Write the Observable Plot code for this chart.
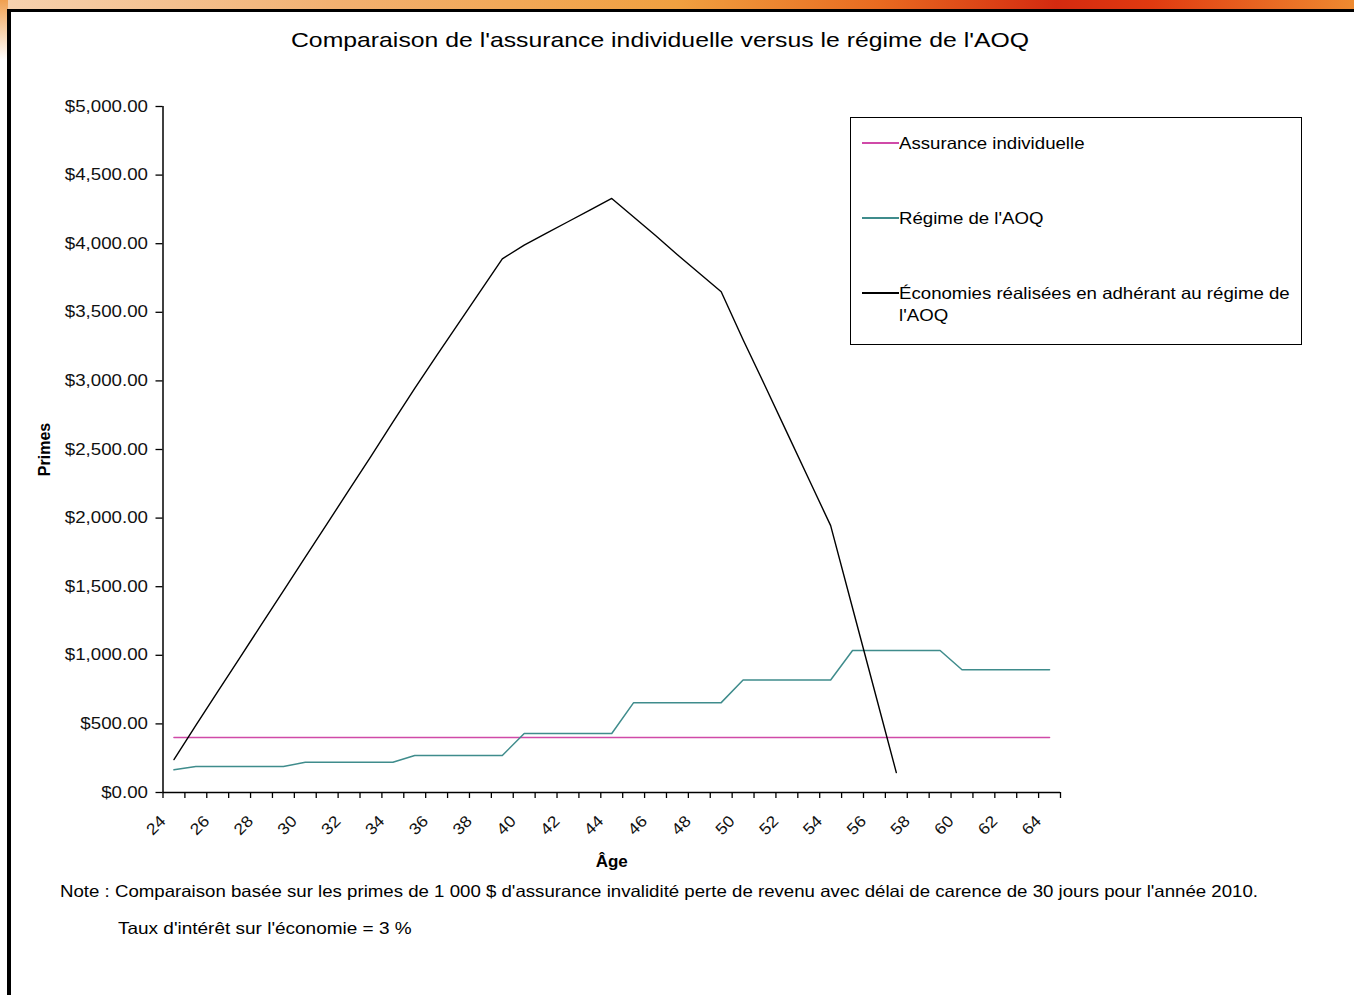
<!DOCTYPE html>
<html>
<head>
<meta charset="utf-8">
<script src="https://cdn.jsdelivr.net/npm/d3@7"></script>
<script src="https://cdn.jsdelivr.net/npm/@observablehq/plot@0.6"></script>
<style>
  html, body { margin: 0; padding: 0; background: #fff; }
  body { width: 1354px; height: 995px; position: relative; overflow: hidden; font-family: "Liberation Sans", Arial, sans-serif; color: #000; }
  .abs { position: absolute; }
  #banner { left: 0; top: 0; width: 1354px; height: 10px;
    background: linear-gradient(90deg, #f6d2b0 0%, #f2b070 25%, #f0a040 50%, #e86a20 65%, #d42a10 78%, #e03a10 85%, #ee8a30 100%); }
  #leftfade { left: 0; top: 0; width: 8px; height: 60px; background: linear-gradient(180deg, #f0a050 0%, #fff 100%); }
  #frameTop { left: 7px; top: 9px; width: 1347px; height: 3px; background: #000; }
  #frameLeft { left: 7px; top: 9px; width: 4px; height: 986px; background: #000; }
  #title { left: 0; top: 27px; width: 1320px; text-align: center; font-size: 21px; line-height: 26px; transform: scaleX(1.18); transform-origin: 660px 0; }
  #legend { left: 850px; top: 117px; width: 450px; height: 226px; border: 1.5px solid #000; background: #fff; }
  .item { position: absolute; left: 11px; font-size: 16.5px; line-height: 22px; display: flex; }
  .swatch { width: 37px; height: 22px; position: relative; flex: none; }
  .swatch span { position: absolute; left: 0; right: 0; top: 10px; height: 1.5px; }
  .ltext { transform: scaleX(1.13); transform-origin: 0 0; }
  #note1 { left: 60px; top: 880px; font-size: 16.5px; line-height: 22px; white-space: nowrap; transform: scaleX(1.13); transform-origin: 0 0; }
  #note2 { left: 118px; top: 917px; font-size: 16.5px; line-height: 22px; white-space: nowrap; transform: scaleX(1.15); transform-origin: 0 0; }
  #chart { left: 0; top: 0; }
</style>
</head>
<body>
<div id="banner" class="abs"></div>
<div id="leftfade" class="abs"></div>
<div id="frameTop" class="abs"></div>
<div id="frameLeft" class="abs"></div>
<div id="chart" class="abs"></div>
<div id="title" class="abs">Comparaison de l'assurance individuelle versus le régime de l'AOQ</div>
<div id="legend" class="abs"></div>
<div id="note1" class="abs">Note : Comparaison basée sur les primes de 1 000 $ d'assurance invalidité perte de revenu avec délai de carence de 30 jours pour l'année 2010.</div>
<div id="note2" class="abs">Taux d'intérêt sur l'économie = 3 %</div>
<script>
// ---- Data ----
const ages = [24,25,26,27,28,29,30,31,32,33,34,35,36,37,38,39,40,41,42,43,44,45,46,47,48,49,50,51,52,53,54,55,56,57,58,59,60,61,62,63,64];
const assuranceIndividuelle = [400,400,400,400,400,400,400,400,400,400,400,400,400,400,400,400,400,400,400,400,400,400,400,400,400,400,400,400,400,400,400,400,400,400,400,400,400,400,400,400,400];
const regimeAOQ = [165,190,190,190,190,190,220,220,220,220,220,270,270,270,270,270,430,430,430,430,430,655,655,655,655,655,820,820,820,820,820,1035,1035,1035,1035,1035,895,895,895,895,895];
// ages 24 .. 57
const economies = [240,490,735,980,1225,1470,1715,1960,2205,2450,2700,2945,3185,3420,3655,3890,3990,4075,4160,4245,4330,4195,4060,3920,3785,3650,3300,2965,2625,2285,1945,1345,745,145];
const xTickLabels = [24,26,28,30,32,34,36,38,40,42,44,46,48,50,52,54,56,58,60,62,64];
const yTicks = [0,500,1000,1500,2000,2500,3000,3500,4000,4500,5000];
const seriesNames = ["Assurance individuelle", "Régime de l'AOQ", "Économies réalisées en adhérant au régime de l'AOQ"];
const seriesColors = ["#d04aa8", "#3f8c8c", "#000000"];

const rows = (arr) => arr.map((v, i) => ({age: ages[i], value: v}));
const dataInd = rows(assuranceIndividuelle);
const dataAOQ = rows(regimeAOQ);
const dataEco = rows(economies);
const boundaries = ages.map(a => a - 0.5).concat([ages[ages.length - 1] + 0.5]);

const chart = Plot.plot({
  width: 1354,
  height: 995,
  marginLeft: 162.5,
  marginRight: 294,
  marginTop: 106,
  marginBottom: 203,
  style: {background: "transparent", fontFamily: "'Liberation Sans', Arial, sans-serif", color: "#000", overflow: "visible"},
  x: {domain: [ages[0] - 0.5, ages[ages.length - 1] + 0.5], axis: null},
  y: {domain: [0, 5000], axis: null},
  marks: [
    Plot.axisY({ticks: yTicks, tickFormat: d3.format("$,.2f"), tickSize: 7, tickPadding: 8, fontSize: 16, label: null, stroke: "#000", strokeWidth: 1.3, fill: "#111"}),
    Plot.axisX({ticks: boundaries, tickFormat: () => "", tickSize: 6, label: null, stroke: "#000", strokeWidth: 1.3}),
    Plot.ruleX([ages[0] - 0.5], {stroke: "#000", strokeWidth: 1.5}),
    Plot.ruleY([0], {stroke: "#000", strokeWidth: 1.5}),
    Plot.text(xTickLabels, {x: d => d, text: d => String(d), frameAnchor: "bottom", rotate: -45, textAnchor: "end", lineAnchor: "middle", dx: -11, dy: 26, fontSize: 16, fill: "#111"}),
    Plot.text(["Primes"], {frameAnchor: "left", textAnchor: "middle", lineAnchor: "middle", rotate: -90, dx: -118, fontSize: 16, fontWeight: "bold", fill: "#000"}),
    Plot.text(["Âge"], {frameAnchor: "bottom", textAnchor: "middle", lineAnchor: "middle", dy: 69, fontSize: 17, fontWeight: "bold", fill: "#000"}),
    Plot.line(dataInd, {x: "age", y: "value", stroke: seriesColors[0], strokeWidth: 1.5}),
    Plot.line(dataAOQ, {x: "age", y: "value", stroke: seriesColors[1], strokeWidth: 1.5}),
    Plot.line(dataEco, {x: "age", y: "value", stroke: seriesColors[2], strokeWidth: 1.4})
  ]
});
document.getElementById("chart").appendChild(chart);

// Horizontal stretch of the y tick labels, as in the reference screenshot
d3.select(chart).selectAll("g[aria-label='y-axis tick label'] text").each(function() {
  const t = this.getAttribute("transform") || "";
  this.setAttribute("transform", t + " scale(1.17,1)");
});
d3.select(chart).selectAll("g[aria-label='text'] text").each(function() {
  const t = this.getAttribute("transform") || "";
  if (t.indexOf("rotate(-45)") >= 0) this.setAttribute("transform", t + " scale(1.1,1)");
});

// Legend
const legend = document.getElementById("legend");
const tops = [14, 89, 164];
seriesNames.forEach((name, i) => {
  const item = document.createElement("div");
  item.className = "item";
  item.style.top = tops[i] + "px";
  const sw = document.createElement("div");
  sw.className = "swatch";
  const ln = document.createElement("span");
  ln.style.background = seriesColors[i];
  sw.appendChild(ln);
  const tx = document.createElement("div");
  tx.className = "ltext";
  tx.style.width = "355px";
  tx.textContent = name;
  item.appendChild(sw);
  item.appendChild(tx);
  legend.appendChild(item);
});
</script>
</body>
</html>
